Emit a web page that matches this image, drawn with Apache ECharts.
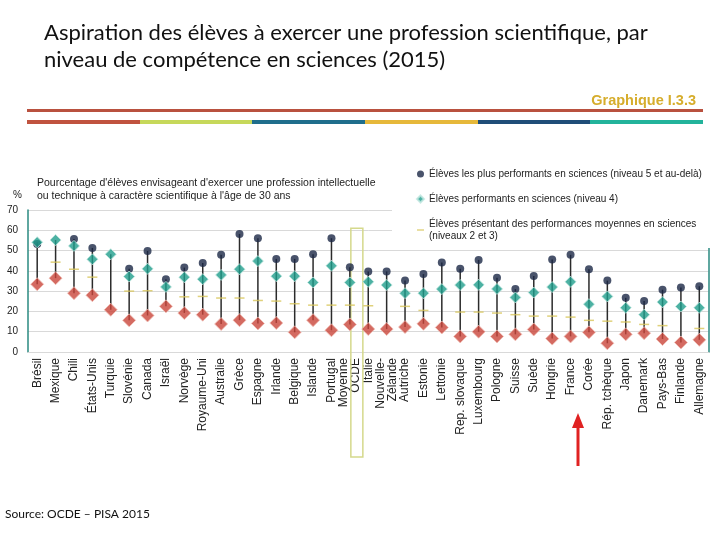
<!DOCTYPE html>
<html>
<head>
<meta charset="utf-8">
<script src="https://cdn.jsdelivr.net/npm/echarts@6/dist/echarts.min.js"></script>
<style>html,body{margin:0;padding:0;background:#fff}#c{width:720px;height:540px}</style>
</head>
<body>
<div id="c"></div>
<script>
const categories = ['Brésil','Mexique','Chili','États-Unis','Turquie','Slovénie','Canada','Israël','Norvège','Royaume-Uni','Australie','Grèce','Espagne','Irlande','Belgique','Islande','Portugal','Moyenne\nOCDE','Italie','Nouvelle-\nZélande','Autriche','Estonie','Lettonie','Rep. slovaque','Luxembourg','Pologne','Suisse','Suède','Hongrie','France','Corée','Rép. tchèque','Japon','Danemark','Pays-Bas','Finlande','Allemagne'];
const topPerformers = [53.3,null,55.7,51.3,null,41.0,49.8,35.9,41.6,43.9,48.0,58.2,56.1,45.9,45.9,48.2,56.1,41.8,39.7,39.7,35.2,38.4,44.1,41.1,45.4,36.6,31.0,37.5,45.6,47.9,40.8,35.2,26.7,25.1,30.7,31.8,32.4];
const strongPerformers = [54.1,55.2,52.3,45.7,48.2,37.2,41.0,32.1,36.9,35.9,38.0,40.8,44.8,37.4,37.4,34.3,42.5,34.3,34.6,33.0,29.0,29.0,31.0,33.0,33.1,31.1,26.9,29.3,32.0,34.6,23.6,27.4,21.8,18.4,24.6,22.4,21.8];
const averagePerformers = [null,44.3,40.8,36.9,null,30.0,30.2,null,27.2,27.4,26.6,26.6,25.4,25.1,23.8,23.1,23.1,23.1,22.8,null,22.5,20.5,null,19.7,19.7,19.2,18.4,17.7,17.7,17.2,15.6,15.2,14.8,13.6,13.0,null,11.6];
const lowPerformers = [33.4,36.4,29.0,28.0,20.8,15.6,18.0,22.5,19.2,18.4,13.8,15.7,14.1,14.3,9.7,15.7,10.7,13.6,11.3,11.3,12.3,13.9,12.1,7.7,10.0,7.7,8.7,11.1,6.6,7.7,9.7,4.3,8.7,9.3,6.4,4.7,6.0];
const yTicks = [0,10,20,30,40,50,60,70];
const nameTop = 'Élèves les plus performants en sciences (niveau 5 et au-delà)';
const nameStrong = 'Élèves performants en sciences (niveau 4)';
const nameAvg = 'Élèves présentant des performances moyennes en sciences\n(niveaux 2 et 3)';
const nameLow = 'Élèves peu performants';
const highlightCat = 'Moyenne\nOCDE';

const rangeData = categories.map((c, i) => {
  const vals = [topPerformers[i], strongPerformers[i], averagePerformers[i], lowPerformers[i]].filter(v => v != null);
  return [i, Math.min(...vals), Math.max(...vals)];
});

const chart = echarts.init(document.getElementById('c'), null, {renderer: 'canvas'});
const FONT = 'Liberation Sans, Arial, sans-serif';
chart.setOption({
  animation: false,
  backgroundColor: '#fff',
  title: [
    {text: 'Aspiration des élèves à exercer une profession scientifique, par\nniveau de compétence en sciences (2015)', left: 39, top: 14,
      textStyle: {fontFamily: 'Lato', fontWeight: 'normal', fontSize: 22, lineHeight: 27, color: '#111'}},
    {text: 'Graphique I.3.3', right: 19, top: 88, textStyle: {fontFamily: FONT, fontWeight: 'bold', fontSize: 14.5, color: '#d6ad2c'}},
    {text: "Pourcentage d'élèves envisageant d'exercer une profession intellectuelle\nou technique à caractère scientifique à l'âge de 30 ans", left: 32, top: 172,
      textStyle: {fontFamily: FONT, fontWeight: 'normal', fontSize: 10.5, lineHeight: 13, color: '#222'}},
    {text: '%', left: 8, top: 185, textStyle: {fontFamily: FONT, fontWeight: 'normal', fontSize: 10, color: '#222'}},
    {text: 'Source: OCDE – PISA 2015', left: 0, top: 503, textStyle: {fontFamily: 'Lato', fontWeight: 'normal', fontSize: 12, color: '#111'}}
  ],
  graphic: [
    {type: 'rect', shape: {x: 27, y: 109, width: 676, height: 3}, style: {fill: '#b9513f'}},
    {type: 'rect', shape: {x: 27, y: 120, width: 113, height: 4}, style: {fill: '#c0533f'}},
    {type: 'rect', shape: {x: 140, y: 120, width: 112, height: 4}, style: {fill: '#c6d85a'}},
    {type: 'rect', shape: {x: 252, y: 120, width: 113, height: 4}, style: {fill: '#1f6e8c'}},
    {type: 'rect', shape: {x: 365, y: 120, width: 113, height: 4}, style: {fill: '#e6b83a'}},
    {type: 'rect', shape: {x: 478, y: 120, width: 112, height: 4}, style: {fill: '#1f4d78'}},
    {type: 'rect', shape: {x: 590, y: 120, width: 113, height: 4}, style: {fill: '#22b39b'}},
    {type: 'polygon', shape: {points: [[572, 428], [578, 413], [584, 428]]}, style: {fill: '#e02222'}},
    {type: 'rect', shape: {x: 576.5, y: 426, width: 3, height: 40}, style: {fill: '#e02222'}}
  ],
  legend: {
    left: 392, top: 162, orient: 'vertical', itemGap: 13, itemWidth: 7, itemHeight: 7,
    padding: [6, 10, 6, 24], backgroundColor: '#fff', z: 10,
    data: [
      {name: nameTop, icon: 'circle'},
      {name: nameStrong, icon: 'diamond'},
      {name: nameAvg, icon: 'path://M0,4L10,4L10,6L0,6Z'}
    ],
    textStyle: {fontFamily: FONT, fontSize: 10, color: '#222', lineHeight: 12}
  },
  grid: {left: 28, right: 11.5, top: 210, bottom: 188, containLabel: false},
  xAxis: {
    type: 'category', data: categories,
    axisLine: {show: true, lineStyle: {color: '#d9d9d9'}},
    axisTick: {show: false},
    axisLabel: {interval: 0, rotate: 90, fontFamily: FONT, fontSize: 12, color: '#222', margin: 6, lineHeight: 12}
  },
  yAxis: [{
    type: 'value', min: yTicks[0], max: yTicks[yTicks.length - 1], interval: 10,
    axisLine: {show: true, lineStyle: {color: '#2a8a80', width: 1.5}},
    axisTick: {show: false},
    splitLine: {lineStyle: {color: '#d9d9d9'}},
    axisLabel: {fontFamily: FONT, fontSize: 10, color: '#222', margin: 10}
  }, {
    type: 'value', min: 0, max: 70, interval: 10, position: 'right',
    axisLine: {show: true, lineStyle: {color: '#2a8a80', width: 1.5}},
    axisTick: {show: false}, axisLabel: {show: false}, splitLine: {show: false}
  }],
  series: [
    {
      type: 'custom', name: 'range', silent: true, z: 2,
      renderItem: (params, api) => {
        const p1 = api.coord([api.value(0), api.value(1)]);
        const p2 = api.coord([api.value(0), api.value(2)]);
        return {type: 'line', shape: {x1: p1[0], y1: p1[1], x2: p2[0], y2: p2[1]}, style: {stroke: '#2b2b2b', lineWidth: 1.5}};
      },
      data: rangeData
    },
    {
      type: 'custom', name: 'highlight', silent: true, z: 1, clip: false,
      renderItem: (params, api) => {
        const t = api.coord([api.value(0), 61]);
        const b = api.coord([api.value(0), 0]);
        return {type: 'rect', shape: {x: t[0] + 1, y: t[1], width: 12, height: b[1] - t[1] + 105},
          style: {stroke: '#d5d98c', fill: 'none', lineWidth: 1.5}};
      },
      data: [[categories.indexOf(highlightCat)]]
    },
    {type: 'scatter', name: nameTop, data: topPerformers, symbol: 'circle', symbolSize: 8, z: 3,
      itemStyle: {color: '#1c2846'}},
    {type: 'scatter', name: nameStrong, data: strongPerformers, symbol: 'diamond', symbolSize: 11, z: 4,
      itemStyle: {color: '#1f9e8c', borderColor: '#bfe6df', borderWidth: 1}},
    {type: 'scatter', name: nameAvg, data: averagePerformers, symbol: 'rect', symbolSize: [10, 1.5], z: 4,
      itemStyle: {color: '#d8c65a'}},
    {type: 'scatter', name: nameLow, data: lowPerformers, symbol: 'diamond', symbolSize: 13, z: 5,
      itemStyle: {color: '#c9453a', borderColor: '#f0c0b8', borderWidth: 1}}
  ]
});
</script>
</body>
</html>
